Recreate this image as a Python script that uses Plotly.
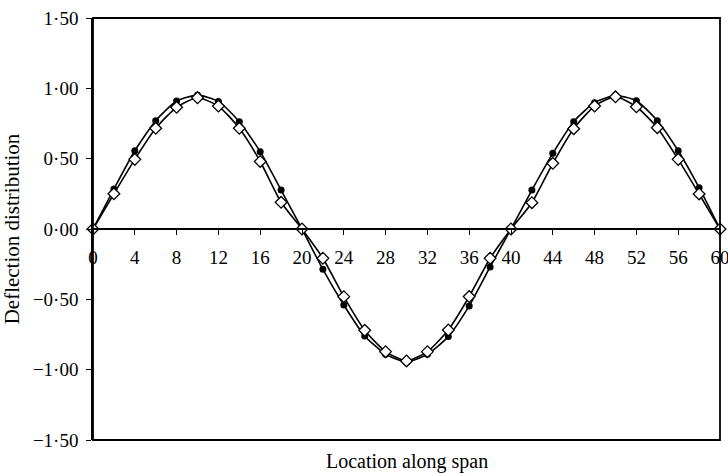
import plotly.graph_objects as go

location = list(range(0, 61, 2))

deflection_filled = [
    0.00, 0.284, 0.556, 0.770, 0.910, 0.952, 0.907, 0.763, 0.550, 0.277,
    0.00, -0.287, -0.540, -0.760, -0.890, -0.945, -0.890, -0.765, -0.547, -0.270,
    0.00, 0.277, 0.538, 0.763, 0.898, 0.948, 0.912, 0.770, 0.556, 0.294, 0.00,
]

deflection_open = [
    0.00, 0.250, 0.495, 0.716, 0.865, 0.933, 0.874, 0.716, 0.480, 0.190,
    0.00, -0.208, -0.481, -0.720, -0.872, -0.938, -0.872, -0.718, -0.480, -0.208,
    0.00, 0.187, 0.467, 0.713, 0.874, 0.940, 0.869, 0.720, 0.495, 0.249, 0.00,
]

x_ticks = list(range(0, 61, 4))
y_ticks = [-1.5, -1.0, -0.5, 0.0, 0.5, 1.0, 1.5]
y_tick_text = ["\u22121\u00b750", "\u22121\u00b700", "\u22120\u00b750", "0\u00b700",
               "0\u00b750", "1\u00b700", "1\u00b750"]

FONT = "Liberation Serif"

fig = go.Figure()
fig.add_trace(go.Scatter(
    x=location, y=deflection_filled, mode="lines+markers",
    line=dict(color="black", width=1.6, shape="spline", smoothing=0.6),
    marker=dict(symbol="circle", size=7, color="black"),
    cliponaxis=False, showlegend=False,
))
fig.add_trace(go.Scatter(
    x=location, y=deflection_open, mode="lines+markers",
    line=dict(color="black", width=1.6, shape="spline", smoothing=0.6),
    marker=dict(symbol="diamond", size=9, color="white",
                line=dict(color="black", width=1.3)),
    cliponaxis=False, showlegend=False,
))

fig.update_layout(
    width=728, height=473,
    margin=dict(l=93, r=8, t=18, b=33),
    paper_bgcolor="white", plot_bgcolor="white",
    font=dict(family=FONT, size=19, color="black"),
    xaxis=dict(
        range=[0, 60], tickvals=x_ticks, ticktext=[str(t) for t in x_ticks],
        anchor="free", position=0.5, automargin=False,
        showline=True, linecolor="black", linewidth=1.5,
        ticks="outside", ticklen=5, tickwidth=1.2, tickcolor="black",
        showgrid=False, zeroline=False,
        tickfont=dict(family=FONT, size=19, color="black"),
        ticklabelstandoff=6, ticklabeloverflow="allow",
    ),
    yaxis=dict(
        range=[-1.5, 1.5], tickvals=y_ticks, ticktext=y_tick_text,
        automargin=False,
        showline=True, linecolor="black", linewidth=1.5,
        ticks="outside", ticklen=5, tickwidth=1.2, tickcolor="black",
        showgrid=False, zeroline=False,
        tickfont=dict(family=FONT, size=19, color="black"),
        ticklabelstandoff=4,
        title=dict(text="Deflection distribution", standoff=8,
                   font=dict(family=FONT, size=21, color="black")),
    ),
    shapes=[dict(type="rect", xref="paper", yref="paper", x0=0, x1=1, y0=0, y1=1,
                 line=dict(color="black", width=1.8), layer="above")],
    annotations=[dict(text="Location along span", xref="paper", yref="paper",
                      x=0.5, y=0, yshift=-8, xanchor="center", yanchor="top",
                      showarrow=False,
                      font=dict(family=FONT, size=20, color="black"))],
)

fig.write_html("out.html", config={"displayModeBar": False},
               post_script="document.body.style.margin='0px';")
